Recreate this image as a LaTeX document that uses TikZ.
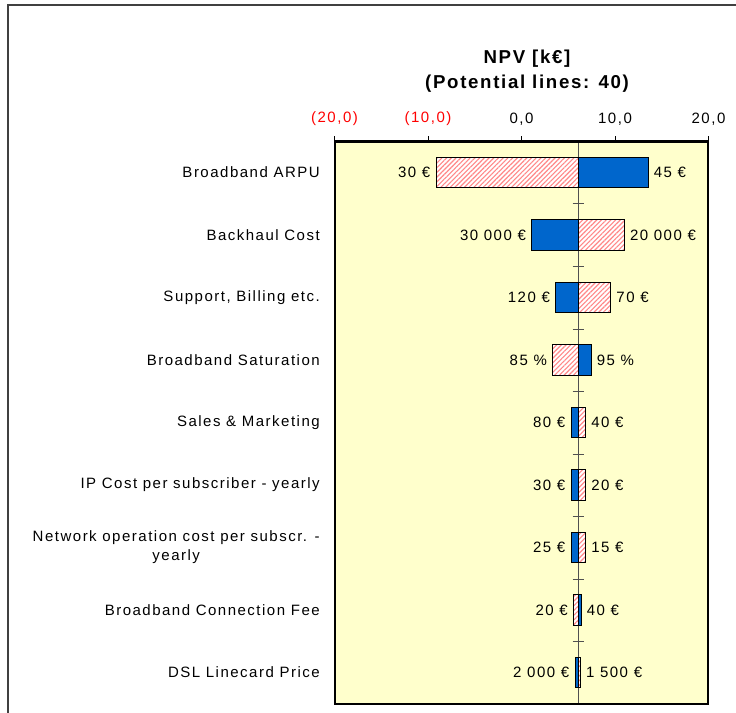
\documentclass[tikz,border=0pt]{standalone}
\usepackage{fontspec}
\setmainfont{Liberation Sans}
\newfontfamily\lblfont[LetterSpace=10]{Liberation Sans}
\newfontfamily\ttlfont[LetterSpace=9]{Liberation Sans}
\usetikzlibrary{patterns.meta}
\definecolor{barblue}{HTML}{0066CC}
\definecolor{plotbg}{HTML}{FFFFCC}
\definecolor{hatchred}{HTML}{FF8888}
\definecolor{axred}{HTML}{FF0000}
\definecolor{midgray}{HTML}{505050}
\definecolor{framegray}{HTML}{404040}
\begin{document}
\begin{tikzpicture}[x=0.75pt,y=-0.75pt,
  txt/.style={font=\lblfont\fontsize{11.25}{14}\selectfont, inner sep=0pt},
  cat/.style={txt, anchor=east, align=center},
  vall/.style={txt, anchor=east},
  valr/.style={txt, anchor=west},
  axlbl/.style={txt, anchor=center},
  bluebar/.style={fill=barblue, draw=black, line width=0.75pt},
  hatchbar/.style={draw=black, line width=0.75pt, preaction={fill=white},
     pattern={Lines[angle=45,distance=2.5pt,line width=0.85pt]}, pattern color=hatchred},
  cattick/.style={draw=midgray, line width=0.75pt},
]
\useasboundingbox (0,0) rectangle (736,713);
% outer frame
\draw[framegray, line width=1.5pt] (7.5,713) -- (7.5,5.5) -- (736,5.5);
% title
\node[font=\ttlfont\bfseries\fontsize{14}{19}\selectfont, align=center, inner sep=0pt]
  (title) at (527,71) {NPV [k€]\\(Potential lines: 40)};
% plot background
\fill[plotbg] (335,141.5) rectangle (708,704);
% axis labels and ticks
\foreach \xv/\lab/\col [count=\k] in {334.5/{(20,0)}/axred, 428/{(10,0)}/axred, 521.5/{0,0}/black, 615/{10,0}/black, 708.5/{20,0}/black}{
  \node[axlbl, text=\col] (ax\k) at (\xv,119) {\lab};
  \draw[black, line width=0.75pt] (\xv,136.5) -- (\xv,141.5);
}
% center line
\coordinate (ctop) at (578,141.5);
\coordinate (cbot) at (578,704);
\draw[midgray, line width=0.75pt] (ctop) -- (cbot);
% category ticks
\foreach \k in {1,...,8}{
  \draw[cattick] (572.5,141.5+62.5*\k) -- (583.5,141.5+62.5*\k);
}
% bars: row / left x / left style / right x / right style / left label / right label
\foreach \r/\lx/\ls/\rx/\rs/\ll/\rl in {
  1/436/hatchbar/648/bluebar/{30 €}/{45 €},
  2/531.7/bluebar/624.3/hatchbar/{30 000 €}/{20 000 €},
  3/555.7/bluebar/610.7/hatchbar/{120 €}/{70 €},
  4/552.7/hatchbar/591/bluebar/{85 \%}/{95 \%},
  5/571/bluebar/585.5/hatchbar/{80 €}/{40 €},
  6/571/bluebar/585.5/hatchbar/{30 €}/{20 €},
  7/571/bluebar/585.5/hatchbar/{25 €}/{15 €},
  8/573.5/hatchbar/581/bluebar/{20 €}/{40 €},
  9/575/bluebar/580.3/hatchbar/{2 000 €}/{1 500 €}}{
  \pgfmathsetmacro{\yc}{172.5+62.5*(\r-1)}
  \path[\ls] (\lx,\yc-15.25) rectangle (578,\yc+15.25);
  \path[\rs] (578,\yc-15.25) rectangle (\rx,\yc+15.25);
  \node[vall] (vl\r) at (\lx-5.5,\yc) {\ll};
  \node[valr] (vr\r) at (\rx+5.5,\yc) {\rl};
}
% category labels
\node[cat] (c1) at (320,172.5) {Broadband ARPU};
\node[cat] (c2) at (320,235) {Backhaul Cost};
\node[cat] (c3) at (320,297.5) {Support, Billing etc.};
\node[cat] (c4) at (320,360) {Broadband Saturation};
\node[cat] (c5) at (320,422.5) {Sales \& Marketing};
\node[cat] (c6) at (320,485) {IP Cost per subscriber - yearly};
\node[cat, font=\lblfont\fontsize{11.25}{14.25}\selectfont] (c7) at (320,547.5) {Network operation cost per subscr. -\\yearly};
\node[cat] (c8) at (320,610) {Broadband Connection Fee};
\node[cat] (c9) at (320,672.5) {DSL Linecard Price};
% plot border
\draw[black, line width=1.9pt] (335,141.5) rectangle (708,704);
\end{tikzpicture}
\end{document}
